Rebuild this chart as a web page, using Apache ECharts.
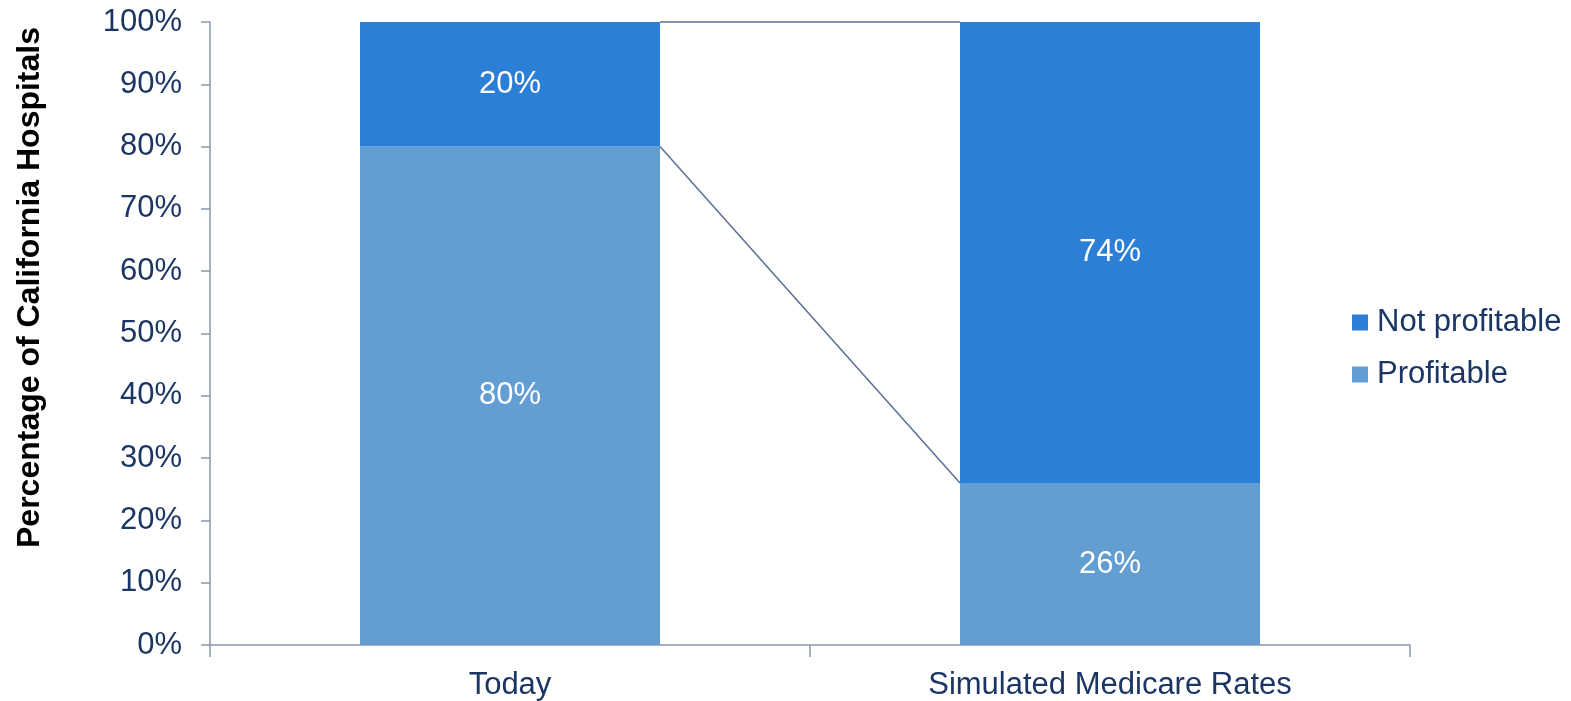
<!DOCTYPE html>
<html>
<head>
<meta charset="utf-8">
<script src="https://cdn.jsdelivr.net/npm/echarts@6/dist/echarts.min.js"></script>
<style>
  html, body { margin: 0; padding: 0; background: #ffffff; }
  #chart { width: 1571px; height: 701px; }
</style>
</head>
<body>
<div id="chart"></div>
<script>
// Share of California hospitals by profitability
const categories = ['Today', 'Simulated Medicare Rates'];
const profitable = [80, 26];
const notProfitable = [20, 74];
const yTicks = [0, 10, 20, 30, 40, 50, 60, 70, 80, 90, 100];

const TEXT = '#1B3665';
const AXIS = '#8C96AA';
const FONT = '"Liberation Sans", Arial, sans-serif';
const FS = 31;

// Cumulative tops of each stack level, used for the connector lines between bars
const stackLevels = [profitable, notProfitable];
const connectorData = [];
{
  const running = categories.map(() => 0);
  stackLevels.forEach(level => {
    level.forEach((v, i) => { running[i] += v; });
    for (let i = 0; i < categories.length - 1; i++) {
      connectorData.push([i, running[i], running[i + 1]]);
    }
  });
}

const chart = echarts.init(document.getElementById('chart'));

chart.setOption({
  animation: false,
  backgroundColor: '#ffffff',
  textStyle: { fontFamily: FONT },
  grid: { left: 210, right: 161, top: 22, bottom: 56, outerBoundsMode: 'none' },
  legend: {
    orient: 'vertical',
    left: 1347,
    top: 302,
    data: ['Not profitable', 'Profitable'],
    icon: 'rect',
    itemWidth: 16,
    itemHeight: 16,
    itemGap: 21,
    textStyle: { color: TEXT, fontSize: FS, fontFamily: FONT, lineHeight: 30, padding: [0, 0, 0, 4] },
    selectedMode: false
  },
  xAxis: {
    type: 'category',
    data: categories,
    axisLine: { lineStyle: { color: AXIS, width: 1.5 } },
    axisTick: { show: true, length: 12, lineStyle: { color: AXIS, width: 1.5 } },
    axisLabel: { color: TEXT, fontSize: FS, fontFamily: FONT, margin: 25 }
  },
  yAxis: {
    type: 'value',
    min: 0,
    max: 100,
    interval: 10,
    name: 'Percentage of California Hospitals',
    nameLocation: 'middle',
    nameGap: 164,
    nameTextStyle: {
      color: '#000000', fontSize: 32, fontWeight: 'bold', fontFamily: FONT,
      padding: [0, 0, 0, 92]
    },
    splitLine: { show: false },
    axisLine: { show: true, lineStyle: { color: AXIS, width: 1.5 } },
    axisTick: { show: true, length: 9, lineStyle: { color: AXIS, width: 1.5 } },
    axisLabel: {
      color: TEXT, fontSize: FS, fontFamily: FONT, margin: 28,
      formatter: v => (yTicks.indexOf(v) >= 0 ? v + '%' : '')
    }
  },
  series: [
    {
      name: 'Profitable',
      type: 'bar',
      stack: 'share',
      barWidth: '50%',
      data: profitable,
      itemStyle: { color: '#639ED2' },
      label: {
        show: true, position: 'inside', color: '#ffffff', fontSize: FS, fontFamily: FONT,
        formatter: p => p.value + '%'
      }
    },
    {
      name: 'Not profitable',
      type: 'bar',
      stack: 'share',
      barWidth: '50%',
      data: notProfitable,
      itemStyle: { color: '#2B7FD6' },
      label: {
        show: true, position: 'inside', color: '#ffffff', fontSize: FS, fontFamily: FONT,
        formatter: p => p.value + '%'
      }
    },
    {
      // Series lines joining the stack tops of neighbouring bars
      name: 'connectors',
      type: 'custom',
      silent: true,
      z: 3,
      data: connectorData,
      encode: { x: 0, y: 1 },
      renderItem: (params, api) => {
        const i = api.value(0);
        const a = api.coord([i, api.value(1)]);
        const b = api.coord([i + 1, api.value(2)]);
        const half = api.size([1, 0])[0] * 0.25;
        return {
          type: 'line',
          shape: { x1: a[0] + half, y1: a[1], x2: b[0] - half, y2: b[1] },
          style: { stroke: '#5A6F92', lineWidth: 1.5 }
        };
      }
    }
  ]
});
</script>
</body>
</html>
